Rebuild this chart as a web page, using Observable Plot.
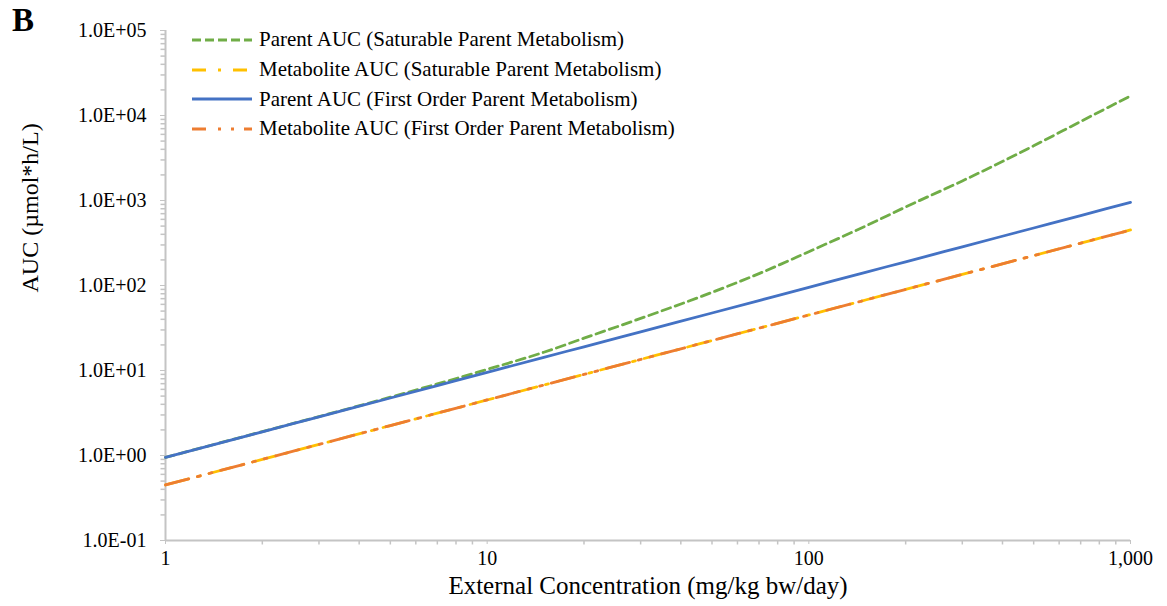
<!DOCTYPE html>
<html><head><meta charset="utf-8">
<script src="https://cdn.jsdelivr.net/npm/d3@7"></script>
<script src="https://cdn.jsdelivr.net/npm/@observablehq/plot@0.6"></script>
<style>
body{margin:0;background:#fff;}
#wrap{position:relative;width:1167px;height:606px;font-family:"Liberation Serif","Times New Roman",serif;color:#000;}
#tag{position:absolute;left:12px;top:2px;font-weight:bold;font-size:33px;}
#legend{position:absolute;left:192px;top:25px;font-size:21px;}
.row{display:flex;align-items:center;height:29.7px;white-space:nowrap;}
.row svg{width:60px;height:10px;margin-right:7px;flex:none;}
#chart{position:absolute;left:0;top:0;}
</style></head><body>
<div id="wrap"><div id="chart"></div><div id="tag">B</div><div id="legend"></div></div>
<script>
// External concentration (mg/kg bw/day)
const doses = [1, 2, 3, 5, 7, 10, 15, 20, 30, 50, 70, 100, 150, 200, 300, 500, 700, 1000];
// AUC (umol*h/L)
const parentSaturable  = [0.95, 1.91, 2.87, 4.85, 6.95, 10.3, 16.4, 24, 41, 83, 138, 250, 500, 840, 1700, 4400, 8500, 17000];
const metabSaturable   = [0.45, 0.9, 1.35, 2.25, 3.15, 4.5, 6.75, 9, 13.5, 22.5, 31.5, 45, 67.5, 90, 135, 225, 315, 450];
const parentFirstOrder = [0.95, 1.9, 2.85, 4.75, 6.65, 9.5, 14.3, 19, 28.5, 47.5, 66.5, 95, 143, 190, 285, 475, 665, 950];
const metabFirstOrder  = [0.45, 0.9, 1.35, 2.25, 3.15, 4.5, 6.75, 9, 13.5, 22.5, 31.5, 45, 67.5, 90, 135, 225, 315, 450];

const seriesNames = [
  "Parent AUC (Saturable Parent Metabolism)",
  "Metabolite AUC (Saturable Parent Metabolism)",
  "Parent AUC (First Order Parent Metabolism)",
  "Metabolite AUC (First Order Parent Metabolism)"
];
const seriesValues = [parentSaturable, metabSaturable, parentFirstOrder, metabFirstOrder];
const seriesColors = ["#70AD47", "#FFC000", "#4472C4", "#ED7D31"];
const seriesDash = ["9,5", "24,9,3,9", null, "24,9,3,9,3,9"];
const legendDash = ["9,4", "14,12,3,12", null, "14,12,3,10,3,10"];

const yTicks = [0.1, 1, 10, 100, 1000, 10000, 100000];
const yTickLabels = ["1.0E-01", "1.0E+00", "1.0E+01", "1.0E+02", "1.0E+03", "1.0E+04", "1.0E+05"];
const xTicks = [1, 10, 100, 1000];
const xTickLabels = ["1", "10", "100", "1,000"];

const rows = seriesNames.flatMap((s, i) => doses.map((d, j) => ({series: s, dose: d, auc: seriesValues[i][j]})));

const minorY = yTicks.slice(0, -1).flatMap(d => d3.range(2, 10).map(k => k * d));
const minorX = xTicks.slice(0, -1).flatMap(d => d3.range(2, 10).map(k => k * d));

const axisColor = "#c4c4c4";
const font = "'Liberation Serif','Times New Roman',serif";

// small tick glyphs for minor ticks (outside the frame)
const tickLeft = {draw(c) { c.moveTo(-5, 0); c.lineTo(0, 0); }};
const tickDown = {draw(c) { c.moveTo(0, 0); c.lineTo(0, 4); }};

const lineMarks = seriesNames.map((s, i) => Plot.line(rows.filter(r => r.series === s), {
  x: "dose", y: "auc", stroke: seriesColors[i], strokeWidth: 2.8,
  strokeDasharray: seriesDash[i] ?? undefined, curve: "monotone-x"
}));

const chart = Plot.plot({
  width: 1167, height: 606,
  marginLeft: 165, marginRight: 37, marginTop: 30, marginBottom: 66,
  style: {fontFamily: font, fontSize: "20px", color: "#000", background: "transparent", overflow: "visible"},
  x: {type: "log", domain: [1, 1000], ticks: xTicks, tickSize: 4, tickPadding: 6, label: null,
      tickFormat: d => xTickLabels[xTicks.indexOf(d)]},
  y: {type: "log", domain: [0.1, 100000], ticks: yTicks, tickSize: 5, tickPadding: 14, label: null,
      tickFormat: d => yTickLabels[yTicks.indexOf(d)]},
  marks: [
    Plot.dot(minorY, {x: () => 1, y: d => d, symbol: tickLeft, r: 3, stroke: axisColor, strokeWidth: 1.5, fill: "none"}),
    Plot.dot(minorX, {x: d => d, y: () => 0.1, symbol: tickDown, r: 3, stroke: axisColor, strokeWidth: 1.5, fill: "none"}),
    Plot.ruleX([1], {stroke: axisColor, strokeWidth: 2}),
    Plot.ruleY([0.1], {stroke: axisColor, strokeWidth: 2}),
    ...[lineMarks[0], lineMarks[2], lineMarks[1], lineMarks[3]],
    Plot.text(["AUC (µmol*h/L)"], {frameAnchor: "left", rotate: -90, dx: -135, dy: 7, fontSize: 24, fill: "#000"}),
    Plot.text(["External Concentration (mg/kg bw/day)"], {frameAnchor: "bottom", dy: 45, lineAnchor: "middle", fontSize: 25, fill: "#000"})
  ]
});
// colour the implicit axis tick lines grey
chart.querySelectorAll("g[aria-label*='axis'] line, g[aria-label*='axis'] path").forEach(el => el.setAttribute("stroke", axisColor));
document.getElementById("chart").appendChild(chart);

const legend = document.getElementById("legend");
seriesNames.forEach((s, i) => {
  const row = document.createElement("div");
  row.className = "row";
  const dash = legendDash[i] ? ` stroke-dasharray="${legendDash[i]}"` : "";
  row.innerHTML = `<svg viewBox="0 0 60 10"><line x1="0" y1="5" x2="60" y2="5" stroke="${seriesColors[i]}" stroke-width="3"${dash}/></svg><span>${s}</span>`;
  legend.appendChild(row);
});
</script>
</body></html>
